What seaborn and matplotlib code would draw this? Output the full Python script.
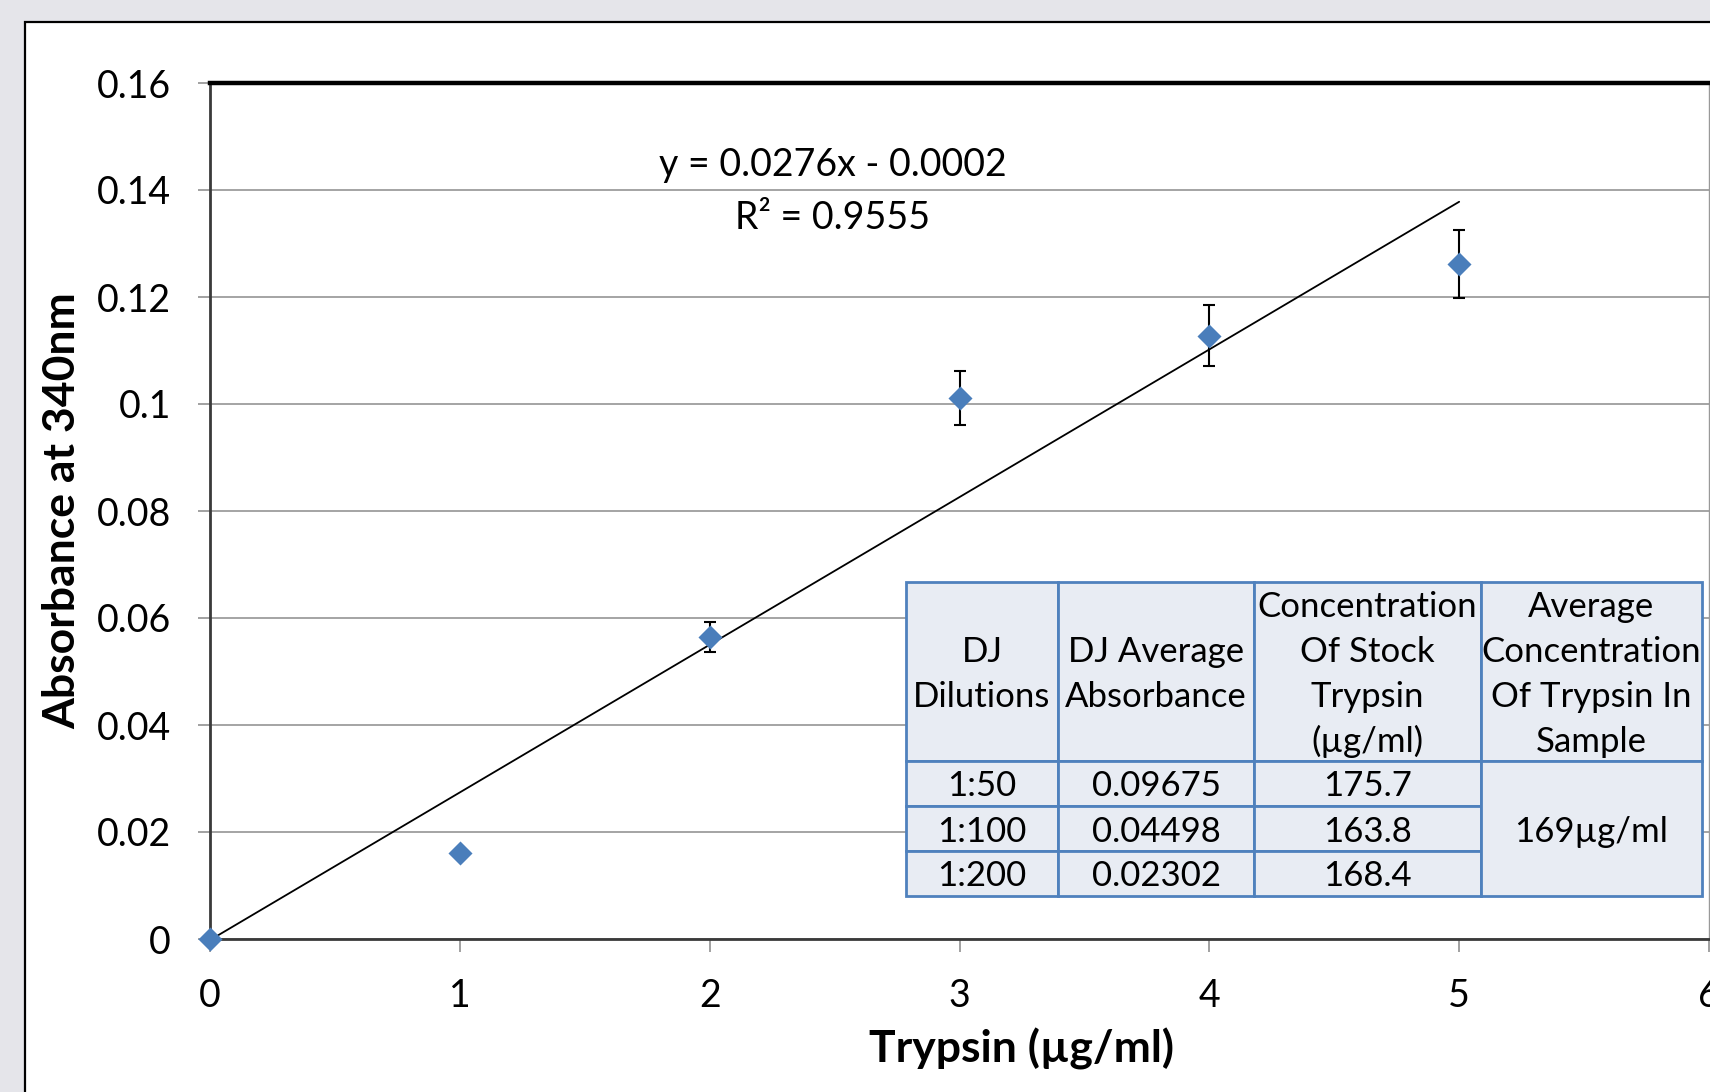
import numpy as np
import pandas as pd
import seaborn as sns
import matplotlib
matplotlib.use("Agg")
import matplotlib.pyplot as plt
from matplotlib.patches import Rectangle

# ---------------- data ----------------
trypsin = [0, 1, 2, 3, 4, 5]
absorbance = [0.0, 0.0160, 0.0564, 0.1011, 0.1128, 0.1262]
abs_err = [0.0, 0.0, 0.0028, 0.0050, 0.0057, 0.0063]
trend_slope = 0.0276
trend_intercept = -0.0002
trend_r2 = 0.9555
x_ticks = [0, 1, 2, 3, 4, 5, 6]
y_ticks = [0, 0.02, 0.04, 0.06, 0.08, 0.1, 0.12, 0.14, 0.16]
y_tick_labels = ["0", "0.02", "0.04", "0.06", "0.08", "0.1", "0.12", "0.14", "0.16"]

table_headers = [["DJ", "Dilutions"], ["DJ Average", "Absorbance"],
                 ["Concentration", "Of Stock", "Trypsin", "(µg/ml)"],
                 ["Average", "Concentration", "Of Trypsin In", "Sample"]]
table_dilutions = ["1:50", "1:100", "1:200"]
table_avg_abs = ["0.09675", "0.04498", "0.02302"]
table_stock_conc = ["175.7", "163.8", "168.4"]
table_avg_conc = "169µg/ml"

# ---------------- style ----------------
sns.set_theme(style="white")
plt.rcParams["font.family"] = ["Lato", "DejaVu Sans"]

W, H = 1710, 1092
fig = plt.figure(figsize=(W / 100, H / 100), dpi=100, facecolor="#e5e5ea")

# white chart panel
panel = Rectangle((25 / W, -0.2), 1.5, (H - 22) / H + 0.2,
                  transform=fig.transFigure, facecolor="white",
                  edgecolor="black", linewidth=1.6, zorder=-10)
fig.patches.append(panel)

ax_l, ax_r, ax_t, ax_b = 210, 1709, 83, 939
ax = fig.add_axes([ax_l / W, (H - ax_b) / H, (ax_r - ax_l) / W, (ax_b - ax_t) / H])
ax.set_facecolor("white")

df = pd.DataFrame({"Trypsin": trypsin, "Absorbance": absorbance, "err": abs_err})

# trendline
xl = np.array([trypsin[0], trypsin[-1]], dtype=float)
trend_df = pd.DataFrame({"x": xl, "y": trend_slope * xl + trend_intercept})
sns.lineplot(data=trend_df, x="x", y="y", ax=ax, color="black", linewidth=1.3, zorder=3)

# error bars
ax.errorbar(df["Trypsin"], df["Absorbance"], yerr=df["err"], fmt="none",
            ecolor="black", elinewidth=1.5, capsize=4.6, capthick=1.5, zorder=4)

# points
sns.scatterplot(data=df, x="Trypsin", y="Absorbance", ax=ax, marker="D", s=150,
                color="#4a7ebb", linewidth=0, zorder=5, clip_on=False)

ax.set_xlim(0, 6)
ax.set_ylim(0, 0.16)
ax.set_xticks(x_ticks)
ax.set_yticks(y_ticks)
ax.set_yticklabels(y_tick_labels)
ax.yaxis.grid(True, color="#8c8c8c", linewidth=1.1)
ax.xaxis.grid(False)
ax.set_axisbelow(True)

ax.tick_params(axis="both", which="major", direction="out", length=9, width=1.1,
               color="#888888", labelsize=27, labelcolor="black", pad=19)
ax.tick_params(axis="x", bottom=True)
ax.tick_params(axis="y", left=True)

for side, (c, lw) in {"top": ("black", 3.2), "left": ("#3a3a3a", 2.0),
                      "bottom": ("#3a3a3a", 2.0), "right": ("#999999", 1.0)}.items():
    ax.spines[side].set_visible(True)
    ax.spines[side].set_color(c)
    ax.spines[side].set_linewidth(lw)

ax.set_xlabel("Trypsin (µg/ml)", fontsize=32, fontweight="bold", color="black")
ax.set_ylabel("Absorbance at 340nm", fontsize=32, fontweight="bold", color="black")
ax.xaxis.label.set_va("center")
ax.yaxis.label.set_va("center")
ax.xaxis.set_label_coords((1021 - ax_l) / (ax_r - ax_l), -(1049 - ax_b) / (ax_b - ax_t))
ax.yaxis.set_label_coords(-(ax_l - 62) / (ax_r - ax_l), 0.5)

# equation
ax.text((833 - ax_l) / (ax_r - ax_l), (ax_b - 165) / (ax_b - ax_t),
        f"y = {trend_slope}x - {abs(trend_intercept):.4f}", transform=ax.transAxes,
        ha="center", va="center", fontsize=27, color="black")
ax.text((833 - ax_l) / (ax_r - ax_l), (ax_b - 218) / (ax_b - ax_t),
        f"R² = {trend_r2}", transform=ax.transAxes,
        ha="center", va="center", fontsize=27, color="black")

# ---------------- table overlay (pixel coordinates) ----------------
ov = fig.add_axes([0, 0, 1, 1], facecolor="none")
ov.set_xlim(0, W)
ov.set_ylim(H, 0)
ov.axis("off")

cols = [906, 1058, 1254, 1481, 1702]
rows = [582, 761, 806, 851, 896]
cell_fc = "#e8ecf3"
edge_c = "#4f81bd"
elw = 2.0
tfs = 25
line_h = 44.7
dy = 3

def cell(x0, x1, y0, y1):
    ov.add_patch(Rectangle((x0, y0), x1 - x0, y1 - y0, facecolor=cell_fc,
                           edgecolor=edge_c, linewidth=elw, zorder=6))

# header
for i, lines in enumerate(table_headers):
    cell(cols[i], cols[i + 1], rows[0], rows[1])
    cx = (cols[i] + cols[i + 1]) / 2
    cy = (rows[0] + rows[1]) / 2 + dy
    n = len(lines)
    for j, t in enumerate(lines):
        ov.text(cx, cy + (j - (n - 1) / 2) * line_h, t, ha="center", va="center",
                fontsize=tfs, color="black", zorder=7)

body_cols = [table_dilutions, table_avg_abs, table_stock_conc]
for r in range(3):
    for c in range(3):
        cell(cols[c], cols[c + 1], rows[r + 1], rows[r + 2])
        ov.text((cols[c] + cols[c + 1]) / 2, (rows[r + 1] + rows[r + 2]) / 2 + dy,
                body_cols[c][r], ha="center", va="center", fontsize=tfs,
                color="black", zorder=7)
cell(cols[3], cols[4], rows[1], rows[4])
ov.text((cols[3] + cols[4]) / 2, (rows[1] + rows[4]) / 2 + dy, table_avg_conc,
        ha="center", va="center", fontsize=tfs, color="black", zorder=7)

fig.savefig("out.png", dpi=100, facecolor=fig.get_facecolor())
